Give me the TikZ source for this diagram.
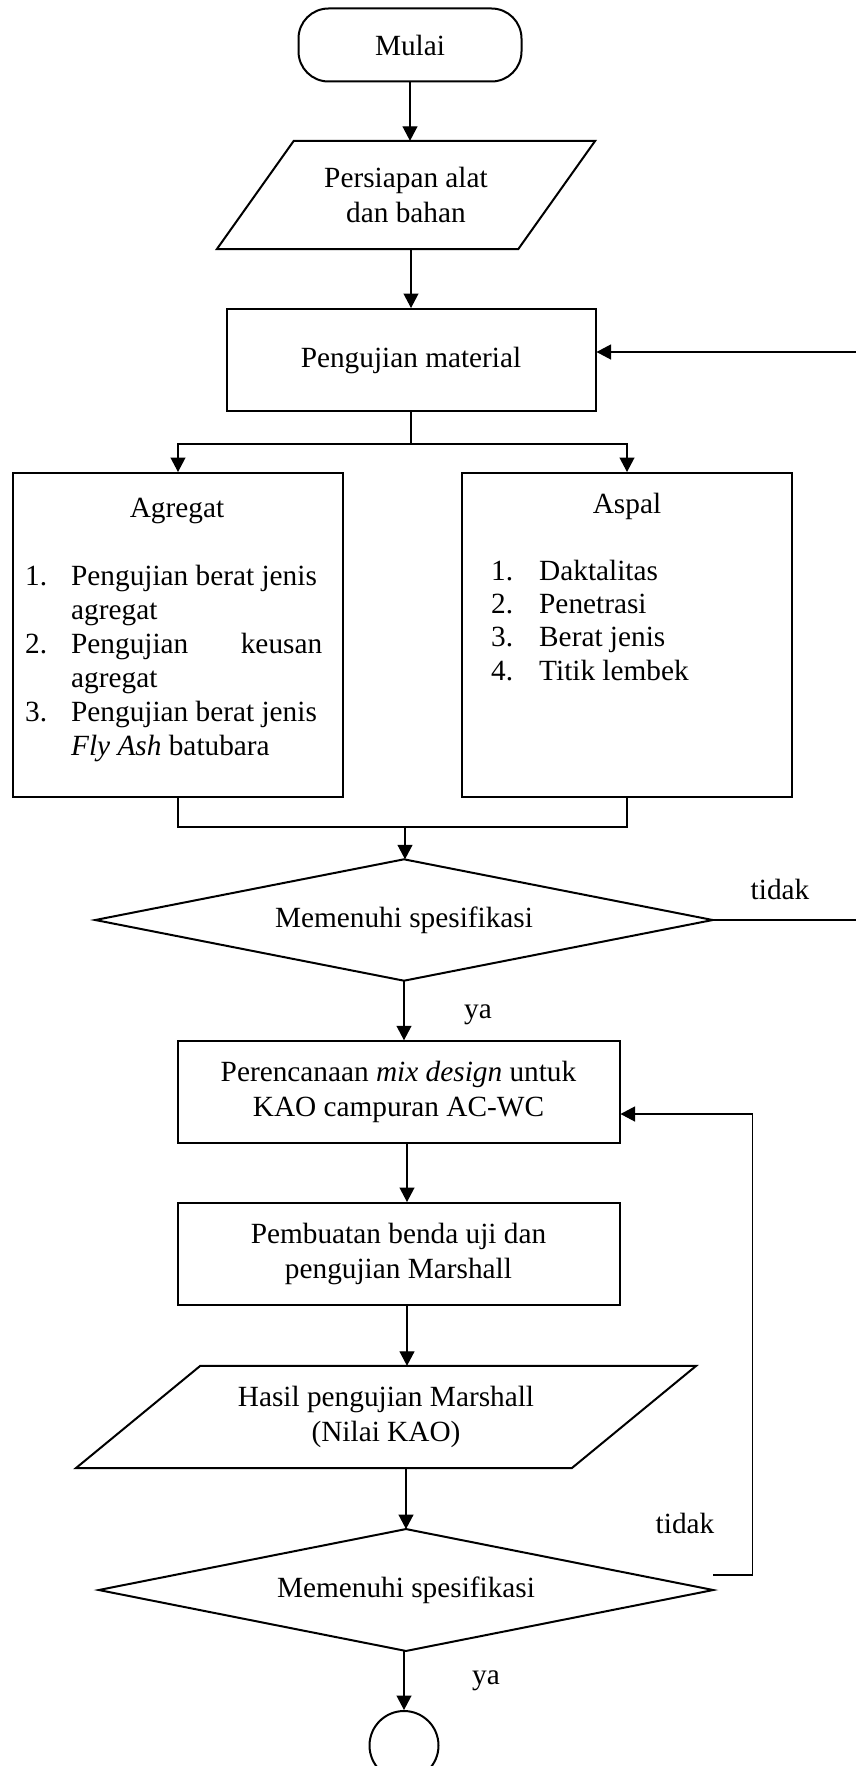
\documentclass[tikz,border=0pt]{standalone}
\usepackage{fontspec}
\setmainfont{Liberation Serif}
\usetikzlibrary{arrows.meta,calc}
\begin{document}
\begin{tikzpicture}[x=1pt,y=-1pt,
  txt/.style={font=\fontsize{29.3}{35.5}\selectfont, inner sep=0pt},
  shapeline/.style={draw=black, line width=2pt},
  boxnode/.style={shapeline, rectangle, txt, align=center},
  ghost/.style={rectangle, draw=none, txt, align=center},
  conn/.style={draw=black, line width=1.2pt},
  arr/.style={conn, -{Triangle[length=14.5pt,width=15pt]}},
]
\useasboundingbox (0,0) rectangle (856,1766);

% start
\node[boxnode, rounded corners=30pt, minimum width=223pt, minimum height=73pt] (start) at (410,45) {Mulai};

% input parallelogram
\node[ghost, minimum width=378pt, minimum height=108pt] (p1) at (406,195) {Persiapan alat\\dan bahan};
\draw[shapeline] ($(p1.north west)+(77,0)$) -- (p1.north east) -- ($(p1.south east)+(-77,0)$) -- (p1.south west) -- cycle;

% material testing
\node[boxnode, minimum width=369pt, minimum height=102pt] (mat) at (411,360) {Pengujian material};

% two boxes
\node[shapeline, rectangle, minimum width=330pt, minimum height=324pt] (agg) at (178,635) {};
\node[shapeline, rectangle, minimum width=330pt, minimum height=324pt] (asp) at (627,635) {};
\node[txt, anchor=base] (aggT) at (177,517) {Agregat};
\node[txt, anchor=base] (aspT) at (627,513) {Aspal};
\node[txt, anchor=base west] (aggL) at (25,585) {\fontsize{29.3}{34}\selectfont
  \begin{tabular}[t]{@{}p{46pt}@{}p{251pt}@{}}
  1. & Pengujian berat jenis\\
     & agregat\\
  2. & Pengujian\hfill keusan\\
     & agregat\\
  3. & Pengujian berat jenis\\
     & \textit{Fly Ash} batubara
  \end{tabular}};
\node[txt, anchor=base west] (aspL) at (491,580) {\fontsize{29.3}{33.4}\selectfont
  \begin{tabular}[t]{@{}p{48pt}@{}l@{}}
  1. & Daktalitas\\
  2. & Penetrasi\\
  3. & Berat jenis\\
  4. & Titik lembek
  \end{tabular}};

% first decision
\node[ghost, minimum width=617pt, minimum height=121pt] (d1) at (404,920) {Memenuhi spesifikasi};
\draw[shapeline] (d1.north) -- (d1.east) -- (d1.south) -- (d1.west) -- cycle;
\node[txt] (t1) at (780,889) {tidak};
\node[txt] (ya1) at (478,1015) {ya};

% mix design
\node[boxnode, minimum width=442pt, minimum height=101.5pt] (plan) at (398.5,1092) {Perencanaan \textit{mix design} untuk\\KAO campuran AC-WC};
\node[boxnode, minimum width=442pt, minimum height=102pt] (make) at (398.5,1254) {Pembuatan benda uji dan\\pengujian Marshall};

% result parallelogram
\node[ghost, minimum width=620pt, minimum height=102pt] (res) at (386,1417) {Hasil pengujian Marshall\\(Nilai KAO)};
\draw[shapeline] ($(res.north west)+(124.5,0)$) -- (res.north east) -- ($(res.south east)+(-124.5,0)$) -- (res.south west) -- cycle;

% second decision
\node[ghost, minimum width=614pt, minimum height=121.5pt] (d2) at (406,1590) {Memenuhi spesifikasi};
\draw[shapeline] (d2.north) -- (d2.east) -- (d2.south) -- (d2.west) -- cycle;
\node[txt] (t2) at (685,1523) {tidak};
\node[txt] (ya2) at (486,1681) {ya};

% end connector
\node[shapeline, circle, minimum size=69pt, inner sep=0pt] (end) at (404,1745.5) {};

% helper coordinates
\coordinate (s1) at (411,444);
\coordinate (m1) at (405,827);
\coordinate (lx) at (885,0);
\coordinate (ax) at (407,0);

% connectors
\draw[arr] (start.south) -- (start.south |- p1.north);
\draw[arr] (p1.south -| mat.north) -- (mat.north);
\draw[arr] (lx |- d1.east) |- ([yshift=8pt]mat.east);
\draw[conn] (d1.east) -- (lx |- d1.east);
\draw[conn] (mat.south) -- (s1);
\draw[arr] (s1) -| (agg.north);
\draw[arr] (s1) -| (asp.north);
\draw[conn] (agg.south) -- (agg.south |- m1) -- (asp.south |- m1) -- (asp.south);
\draw[arr] (m1) -- (m1 |- d1.north);
\draw[arr] (d1.south) -- (d1.south |- plan.north);
\draw[arr] (plan.south -| ax) -- (make.north -| ax);
\draw[arr] (make.south -| ax) -- (res.north -| ax);
\draw[arr] (res.south -| d2.north) -- (d2.north);
\draw[arr] ([yshift=15pt]d2.east) -- ++(39,0) |- ([yshift=-22pt]plan.east);
\draw[arr] (d2.south -| end.north) -- (end.north);
\end{tikzpicture}
\end{document}
